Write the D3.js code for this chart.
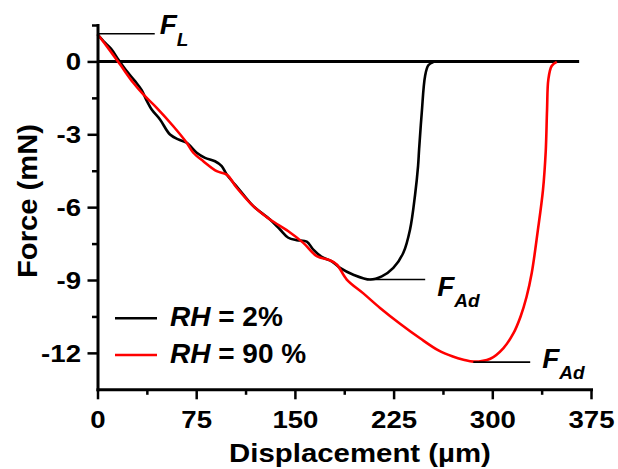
<!DOCTYPE html>
<html>
<head>
<meta charset="utf-8">
<script src="https://cdn.jsdelivr.net/npm/d3@7"></script>
<style>
  html, body { margin: 0; padding: 0; background: #fff; }
  svg { display: block; }
  text { font-family: "Liberation Sans", Arial, sans-serif; font-weight: bold; fill: #000; }
</style>
</head>
<body>
<svg id="chart" width="618" height="469"></svg>
<script>
// ---------------- data ----------------
const xTicks = [0, 75, 150, 225, 300, 375];
const xMinorTicks = [37.5, 112.5, 187.5, 262.5, 337.5];
const yTicks = [0, -3, -6, -9, -12];
const yMinorTicks = [1.5, -1.5, -4.5, -7.5, -10.5];

const seriesNames = ["2%", "90 %"];

// RH = 2%
const dispDry = [0, 5.7, 10.8, 15.8, 22.2, 28.5, 33.6, 36.8, 41.2, 47.5, 55.1, 61.4, 67.8, 75.4, 81.7, 89.3, 94.4, 98.2,
  104.5, 110.8, 118.4, 131.1, 138.7, 145.0, 151.4, 159.0, 164.0, 170.4, 178.0, 184.3, 194.4, 207.1, 216.0, 224.8,
  232.4, 237.5, 241.3, 243.6, 244.4, 246.4, 248.9, 251.4, 255.2];
const forceDry = [1.12, 0.77, 0.49, 0.08, -0.40, -0.81, -1.18, -1.55, -1.98, -2.39, -3.01, -3.21, -3.35, -3.76, -3.97,
  -4.11, -4.31, -4.66, -5.07, -5.48, -5.96, -6.51, -6.92, -7.26, -7.36, -7.42, -7.75, -8.05, -8.23, -8.50, -8.78,
  -8.98, -8.85, -8.50, -7.88, -6.92, -5.50, -4.30, -3.60, -2.11, -0.61, -0.16, -0.03];

// RH = 90 %
const dispWet = [0, 7.0, 17.1, 27.2, 34.8, 45.0, 57.6, 67.8, 72.8, 80.4, 90.6, 98.2, 105.8, 118.4, 131.1, 145.0, 156.4,
  166.6, 176.7, 181.8, 189.4, 202.0, 214.7, 229.9, 245.1, 259.1, 270.0, 278.1, 285.7, 298.5, 308.5, 316.0, 321.5,
  326.0, 330.0, 334.5, 338.5, 340.6, 341.6, 342.6, 345.1, 349.0];
const forceWet = [1.12, 0.63, -0.12, -0.88, -1.36, -1.91, -2.67, -3.35, -3.76, -4.11, -4.52, -4.66, -5.20, -5.96, -6.51,
  -6.99, -7.47, -8.02, -8.19, -8.36, -8.98, -9.55, -10.15, -10.80, -11.40, -11.90, -12.15, -12.28, -12.36, -12.24,
  -11.80, -11.20, -10.50, -9.70, -8.70, -7.00, -5.30, -3.70, -2.00, -0.74, -0.19, -0.02];

// baseline at zero force
const zeroLineX = [0, 366];
const zeroLineY = [0, 0];

// annotations: label subscript, start x, end x, force level
const annSub = ["L", "Ad", "Ad"];
const annX0 = [0, 207.1, 285.6];
const annX1 = [43.5, 249, 328.8];
const annY = [1.14, -8.98, -12.38];

// ---------------- layout ----------------
const svg = d3.select("#chart");
const x = d3.scaleLinear().domain([0, 375]).range([97.5, 591]);
const y = d3.scaleLinear().domain([-13.5, 1.5]).range([389.3, 25]);

function stretch(sel, k) {
  sel.each(function () {
    const L = this.getComputedTextLength();
    this.setAttribute("textLength", L * k);
    this.setAttribute("lengthAdjust", "spacingAndGlyphs");
  });
}

const fmt = d => String(d); // plain hyphen-minus as in the reference

const line = d3.line().x(d => x(d[0])).y(d => y(d[1])).curve(d3.curveCatmullRom.alpha(0.5));

// zero line
svg.append("path")
  .datum(zeroLineX.map((v, i) => [v, zeroLineY[i]]))
  .attr("d", d3.line().x(d => x(d[0])).y(d => y(d[1])))
  .attr("fill", "none").attr("stroke", "#000").attr("stroke-width", 3);

// curves
svg.append("path")
  .datum(dispDry.map((v, i) => [v, forceDry[i]]))
  .attr("d", line).attr("fill", "none").attr("stroke", "#000")
  .attr("stroke-width", 2.6).attr("stroke-linejoin", "round");
svg.append("path")
  .datum(dispWet.map((v, i) => [v, forceWet[i]]))
  .attr("d", line).attr("fill", "none").attr("stroke", "#ff0000")
  .attr("stroke-width", 2.6).attr("stroke-linejoin", "round");

// axes
const gx = svg.append("g").attr("transform", `translate(0,${y(-13.5)})`)
  .call(d3.axisBottom(x).tickValues(xTicks).tickSize(10).tickSizeOuter(0).tickFormat(fmt));
const gxm = svg.append("g").attr("transform", `translate(0,${y(-13.5)})`)
  .call(d3.axisBottom(x).tickValues(xMinorTicks).tickSize(5.5).tickSizeOuter(0).tickFormat(""));
const gy = svg.append("g").attr("transform", `translate(${x(0)},0)`)
  .call(d3.axisLeft(y).tickValues(yTicks).tickSize(10).tickSizeOuter(0).tickFormat(fmt));
const gym = svg.append("g").attr("transform", `translate(${x(0)},0)`)
  .call(d3.axisLeft(y).tickValues(yMinorTicks).tickSize(5.5).tickSizeOuter(0).tickFormat(""));

[gx, gxm, gy, gym].forEach(g => {
  g.selectAll(".domain").attr("stroke", "#000").attr("stroke-width", 3).attr("stroke-linecap", "square");
  g.selectAll(".tick line").attr("stroke", "#000").attr("stroke-width", 2.5);
});
gxm.select(".domain").remove();
gym.select(".domain").remove();

gx.selectAll(".tick text")
  .attr("y", 39).attr("dy", 0)
  .style("font-family", '"Liberation Sans", Arial, sans-serif')
  .style("font-weight", "bold").style("font-size", "23px").attr("fill", "#000");
gy.selectAll(".tick text")
  .attr("x", -16.5).attr("dy", "0.36em")
  .style("font-family", '"Liberation Sans", Arial, sans-serif')
  .style("font-weight", "bold").style("font-size", "23px").attr("fill", "#000");
stretch(gx.selectAll(".tick text"), 1.2);
stretch(gy.selectAll(".tick text"), 1.2);

// axis titles
const xt = svg.append("text").attr("x", 360).attr("y", 461.7).attr("text-anchor", "middle")
  .style("font-size", "26px").text("Displacement (µm)");
stretch(xt, 1.13);
const yt = svg.append("text").attr("transform", "translate(36.7,201) rotate(-90)").attr("text-anchor", "middle")
  .style("font-size", "27px").text("Force (mN)");
stretch(yt, 1.08);

// annotations
const annDx = [5, 12, 12];
const annDy = [0.6, 16, 5.8];
annSub.forEach((s, i) => {
  const x1 = x(annX1[i]), yy = y(annY[i]);
  svg.append("line")
    .attr("x1", x(annX0[i])).attr("x2", x1).attr("y1", yy).attr("y2", yy)
    .attr("stroke", "#000").attr("stroke-width", 1.6);
  const t = svg.append("text").attr("x", x1 + annDx[i]).attr("y", yy + annDy[i])
    .style("font-style", "italic");
  t.append("tspan").style("font-size", "28px").text("F");
  t.append("tspan").attr("dx", 0).attr("dy", 11.5).style("font-size", "19px").text(s);
});

// legend
const legColors = ["#000", "#ff0000"];
const legY = [318.3, 355];
seriesNames.forEach((name, i) => {
  svg.append("line").attr("x1", 115).attr("x2", 157).attr("y1", legY[i]).attr("y2", legY[i])
    .attr("stroke", legColors[i]).attr("stroke-width", 2.6);
  const t = svg.append("text").attr("x", 170).attr("y", legY[i] + 7.5).style("font-size", "28px");
  t.append("tspan").style("font-style", "italic").text("RH");
  t.append("tspan").text(" = " + name);
});
</script>
</body>
</html>
